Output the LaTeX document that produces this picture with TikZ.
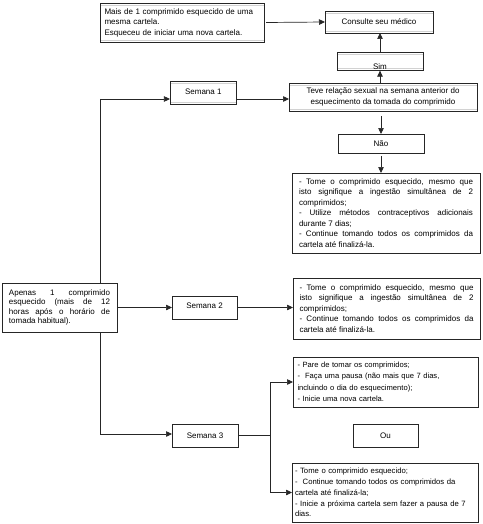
\documentclass[tikz,border=0pt]{standalone}
\usepackage{fontspec}
\setmainfont{Liberation Sans}
\usetikzlibrary{arrows.meta}
\setlength{\parindent}{0pt}
\begin{document}
\begin{tikzpicture}[x=1pt,y=-1pt,
  every node/.style={font=\fontsize{8}{10.5}\selectfont},
  box/.style={draw=black!85, line width=0.7pt, fill=white, inner sep=0pt, outer sep=0pt},
  ghost/.style={path picture={\draw[gray!35,line width=0.6pt]
      ([yshift=-2pt]path picture bounding box.north west) -- ([yshift=-2pt]path picture bounding box.north east)
      ([yshift=2pt]path picture bounding box.south west) -- ([yshift=2pt]path picture bounding box.south east);}},
  conn/.style={draw=black!85, line width=0.7pt},
  arr/.style={conn, -{Triangle[length=6pt,width=5.5pt]}}
]
\useasboundingbox (0,0) rectangle (482,524);

% helper coordinates
\coordinate (r1) at (100,99);
\coordinate (r3) at (100,434);
\coordinate (fork) at (270,435.5);

% lines behind boxes
\draw[conn] (r1) -- (r3);

% nodes
\node[box, ghost, minimum width=164pt, minimum height=39pt, text width=155pt, align=left] (mais) at (182,22.5)
  {Mais de 1 comprimido esquecido de uma\\mesma cartela.\\Esqueceu de iniciar uma nova cartela.};
\node[box, ghost, minimum width=108pt, minimum height=22pt] (cons) at (379,22) {Consulte seu médico};
\node[box, ghost, minimum width=86pt, minimum height=18.7pt,
  label={[inner sep=0.5pt, anchor=south, font=\fontsize{8}{10.5}\selectfont]south:Sim}] (sim) at (380,61.3) {};
\node[box, ghost, minimum width=66.7pt, minimum height=23pt] (s1) at (203.3,92.5) {\raisebox{1.5pt}{Semana 1}};
\node[box, ghost, minimum width=188pt, minimum height=28pt, align=center] (teve) at (383,97)
  {Teve relação sexual na semana anterior do\\esquecimento da tomada do comprimido};
\node[box, minimum width=86pt, minimum height=19pt] (nao) at (381,143.5) {Não};
\node[box, minimum width=188pt, minimum height=80pt, text width=174pt, align=justify] (b1) at (386,213)
  {- Tome o comprimido esquecido, mesmo que\linebreak isto signifique a ingestão simultânea de 2\linebreak comprimidos;\par
   - Utilize métodos contraceptivos adicionais\linebreak durante 7 dias;\par
   - Continue tomando todos os comprimidos da\linebreak cartela até finalizá-la.};
\node[box, minimum width=115pt, minimum height=49pt, text width=101pt, align=justify,
  font=\fontsize{8}{9.3}\selectfont] (ap) at (59.5,307.5)
  {Apenas 1 comprimido\linebreak esquecido (mais de 12\linebreak horas após o horário de\linebreak tomada habitual).};
\node[box, minimum width=65pt, minimum height=23pt] (s2) at (204.5,307.5) {\raisebox{4pt}{Semana 2}};
\node[box, minimum width=187pt, minimum height=61pt, text width=174pt, align=justify] (b2) at (386.5,308.5)
  {- Tome o comprimido esquecido, mesmo que\linebreak isto signifique a ingestão simultânea de 2\linebreak comprimidos;\par
   - Continue tomando todos os comprimidos da\linebreak cartela até finalizá-la.};
\node[box, minimum width=185pt, minimum height=50pt, text width=176pt, align=left,
  font=\fontsize{7.6}{11.5}\selectfont] (b3) at (385.5,382)
  {- Pare de tomar os comprimidos;\\-\ \ Faça uma pausa (não mais que 7 dias,\\incluindo o dia do esquecimento);\\- Inicie uma nova cartela.};
\node[box, minimum width=66pt, minimum height=23pt] (s3) at (205,435.5) {Semana 3};
\node[box, minimum width=65pt, minimum height=23pt] (ou) at (385.5,435.5) {Ou};
\node[box, minimum width=186pt, minimum height=59pt, text width=180pt, align=left,
  font=\fontsize{7.7}{10.8}\selectfont] (b4) at (385,492.5)
  {- Tome o comprimido esquecido;\\-\ \ Continue tomando todos os comprimidos da\\cartela até finalizá-la;\\- Inicie a próxima cartela sem fazer a pausa de 7\\dias.};

% connectors
\draw[arr] ([xshift=2pt]mais.east) -- (cons.west);
\draw[arr] (sim.north) -- (sim.north |- cons.south);
\draw[arr] (sim.south |- teve.north) -- (sim.south);
\draw[arr] (r1) -- (r1 -| s1.west);
\draw[arr] (s1.east |- r1) -- (teve.west |- r1);
\draw[arr] ([yshift=-5pt]teve.south -| nao.north) -- (nao.north);
\draw[arr] ([yshift=-3pt]nao.south) -- (nao.south |- b1.north);
\draw[arr] (ap.east) -- (s2.west);
\draw[arr] (s2.east) -- (b2.west |- s2.east);
\draw[arr] (r3) -- (r3 -| s3.west);
\draw[conn] (s3.east) -- (fork);
\draw[arr] (fork) |- (b3.west);
\draw[arr] (fork) |- (b4.west);
\end{tikzpicture}
\end{document}
